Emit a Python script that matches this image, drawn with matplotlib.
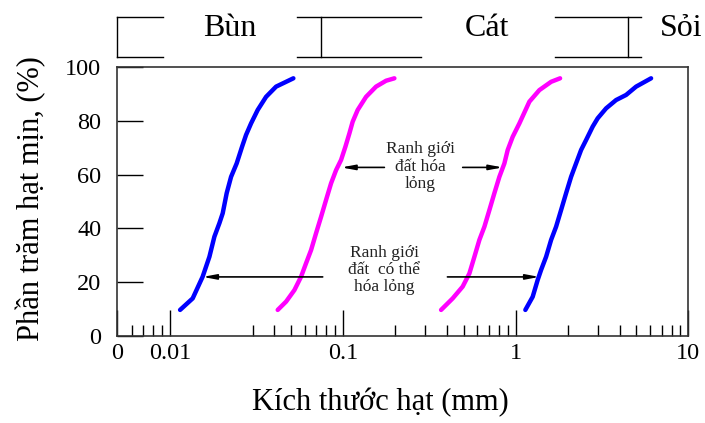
import matplotlib
matplotlib.use('Agg')
import matplotlib.pyplot as plt
from matplotlib.ticker import NullFormatter

plt.rcParams['font.family'] = ['Liberation Serif', 'DejaVu Serif']

# grain size curves (mm, % finer)
blue1_x = [0.01141, 0.01350, 0.01542, 0.01687, 0.01803, 0.01927, 0.02014, 0.02124, 0.02252,
           0.02427, 0.02607, 0.02750, 0.02940, 0.03211, 0.03591, 0.04104, 0.05168]
blue1_y = [9.6, 13.9, 22.0, 29.4, 36.9, 41.9, 45.6, 53.1, 59.2, 64.2, 70.4, 74.8, 79.1, 84.1,
           89.0, 92.8, 95.9]

mag1_x = [0.04194, 0.04690, 0.05240, 0.05728, 0.06121, 0.06544, 0.06995, 0.07477, 0.07993,
          0.08545, 0.09134, 0.09763, 0.1034, 0.1091, 0.1139, 0.1218, 0.1362, 0.1556, 0.1779, 0.1987]
mag1_y = [9.6, 12.7, 17.0, 22.0, 27.0, 31.9, 38.2, 44.3, 50.6, 56.8, 61.7, 65.5, 70.4, 75.4,
          79.7, 84.1, 89.0, 92.8, 95.0, 95.9]

mag2_x = [0.3703, 0.4323, 0.4940, 0.5402, 0.5774, 0.6172, 0.6598, 0.7051, 0.7537, 0.8057,
          0.8614, 0.9002, 0.9621, 1.052, 1.202, 1.373, 1.606, 1.810]
mag2_y = [9.6, 13.9, 18.3, 23.2, 29.4, 35.7, 40.6, 46.8, 53.1, 59.2, 64.2, 69.2, 74.1, 79.1,
          87.2, 91.5, 94.6, 95.9]

blue2_x = [1.139, 1.256, 1.343, 1.405, 1.502, 1.606, 1.716, 1.834, 1.961, 2.096, 2.240, 2.395,
           2.560, 2.795, 2.988, 3.342, 3.818, 4.364, 4.986, 6.089]
blue2_y = [9.6, 14.5, 20.8, 24.5, 29.4, 35.7, 40.6, 46.8, 53.1, 59.2, 64.2, 69.2, 72.9, 77.9,
           81.0, 84.7, 87.8, 89.7, 92.8, 95.9]

x_min = 0.0049
x_major = [x_min, 0.01, 0.1, 1, 10]
x_major_labels = ['0', '0.01', '0.1', '1', '10']
x_minor = [0.006, 0.007, 0.008, 0.009,
           0.03, 0.04, 0.05, 0.06, 0.07, 0.08, 0.09,
           0.2, 0.3, 0.4, 0.5, 0.6, 0.7, 0.8, 0.9,
           2, 3, 4, 5, 6, 7, 8, 9]
y_ticks = [0, 20, 40, 60, 80, 100]

# soil classes above the plot
soil_names = ['Bùn', 'Cát', 'Sỏi']
soil_name_x = [0.0222, 0.687, 9.08]
bracket_segments = [(x_min, 0.00913), (0.0543, 0.2836), (1.693, 5.33)]
bracket_walls = [x_min, 0.0748, 4.50]

fig = plt.figure(figsize=(7.05, 4.23), dpi=100)
ax = fig.add_axes([0.1655, 0.2064, 0.8108, 0.6345])

ax.plot(blue1_x, blue1_y, color='#0000ff', lw=3.2, solid_capstyle='round')
ax.plot(mag1_x, mag1_y, color='#ff00ff', lw=3.2, solid_capstyle='round')
ax.plot(mag2_x, mag2_y, color='#ff00ff', lw=3.2, solid_capstyle='round')
ax.plot(blue2_x, blue2_y, color='#0000ff', lw=3.2, solid_capstyle='round')

ax.set_xscale('log')
ax.set_xlim(x_min, 10)
ax.set_ylim(0, 100)
ax.set_xticks(x_major, x_major_labels)
ax.set_xticks(x_minor, minor=True)
ax.xaxis.set_minor_formatter(NullFormatter())
ax.set_yticks(y_ticks)
ax.tick_params(axis='x', which='major', direction='in', length=19, width=1, pad=5, labelsize=17.5)
ax.tick_params(axis='x', which='minor', direction='in', length=8, width=1)
ax.tick_params(axis='y', which='major', direction='in', length=19, width=1, pad=11, labelsize=17.5)
for s in ax.spines.values():
    s.set_linewidth(1.2)
    s.set_color('#333333')

ax.set_xlabel('Kích thước hạt (mm)', fontsize=22)
ax.xaxis.set_label_coords(0.461, -0.279)
ax.xaxis.label.set_verticalalignment('baseline')
ax.set_ylabel('Phần trăm hạt mịn, (%)', fontsize=22)
ax.yaxis.set_label_coords(-0.124, 0.511)

# brackets and names on top
trans = ax.get_xaxis_transform()
y_top, y_bot = 1.1863, 1.0373
for (a, b) in bracket_segments:
    ax.plot([a, b], [y_top, y_top], transform=trans, color='black', lw=1, clip_on=False)
    ax.plot([a, b], [y_bot, y_bot], transform=trans, color='black', lw=1, clip_on=False)
for w in bracket_walls:
    ax.plot([w, w], [y_bot, y_top], transform=trans, color='black', lw=1, clip_on=False)
for name, nx in zip(soil_names, soil_name_x):
    ax.text(nx, 1.1166, name, transform=trans, ha='center', va='baseline', fontsize=23, clip_on=False)

# annotations
arrow = dict(arrowstyle='-|>,head_length=0.8,head_width=0.15', lw=1.2, color='black',
             shrinkA=0, shrinkB=0)
ax.text(0.281, 63.0, 'Ranh giới\nđất hóa\nlỏng', ha='center', va='center', fontsize=12.5,
        linespacing=1.1, color='#222222')
ax.annotate('', xy=(0.098, 62.7), xytext=(0.1739, 62.7), arrowprops=arrow)
ax.annotate('', xy=(0.842, 62.7), xytext=(0.494, 62.7), arrowprops=arrow)

ax.text(0.174, 24.5, 'Ranh giới\nđất  có thể\nhóa lỏng', ha='center', va='center', fontsize=12.5,
        linespacing=1.1, color='#222222')
ax.annotate('', xy=(0.01542, 21.9), xytext=(0.0764, 21.9), arrowprops=arrow)
ax.annotate('', xy=(1.373, 21.9), xytext=(0.403, 21.9), arrowprops=arrow)

fig.savefig('out.png', dpi=100)
